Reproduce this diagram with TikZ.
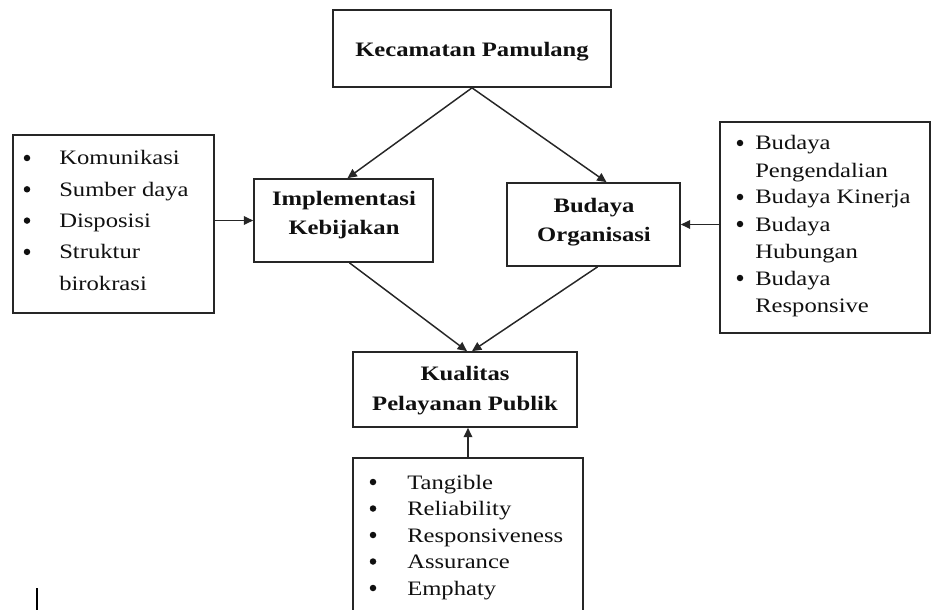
\documentclass[tikz,border=0pt]{standalone}
\usepackage{fontspec}
\setmainfont{Liberation Serif}[FakeStretch=1.2]
\usetikzlibrary{arrows.meta}
\newlength\pxu
\setlength\pxu{0.75pt}
\definecolor{linec}{HTML}{262626}
\definecolor{textc}{HTML}{101010}
\begin{document}
\begin{tikzpicture}[x=0.75pt,y=-0.75pt,
  box/.style={draw=linec,line width=1.3pt,inner sep=0pt,fill=none},
  txt/.style={anchor=base west,inner sep=0pt,text=textc,font=\fontsize{15.4}{18}\selectfont},
  bul/.style={circle,fill=textc,inner sep=0pt,minimum size=6.5\pxu},
  ttl/.style={anchor=base,inner sep=0pt,text=textc,font=\fontsize{15.4}{18}\selectfont\bfseries},
  arr/.style={draw=linec,line width=1.1pt,-{Triangle[length=7pt,width=6.5pt]}}]
\useasboundingbox (0,0) rectangle (933,610);
\clip (0,0) rectangle (933,610);
% boxes
\node[box,minimum width=278\pxu,minimum height=77\pxu] (kec) at (472,48.5) {};
\node[box,minimum width=179\pxu,minimum height=83\pxu] (impl) at (343.5,220.5) {};
\node[box,minimum width=173\pxu,minimum height=83\pxu] (bud) at (593.5,224.5) {};
\node[box,minimum width=224\pxu,minimum height=75\pxu] (kual) at (465,389.5) {};
\node[box,minimum width=201\pxu,minimum height=178\pxu] (left) at (113.5,224) {};
\node[box,minimum width=210\pxu,minimum height=211\pxu] (right) at (825,227.5) {};
\node[box,minimum width=230\pxu,minimum height=162\pxu] (bot) at (468,539) {};
% titles
\node[ttl] (kecT) at (472,57) {Kecamatan Pamulang};
\node[ttl] (implT1) at (344,205) {Implementasi};
\node[ttl] (implT2) at (344,234) {Kebijakan};
\node[ttl] (budT1) at (594,213) {Budaya};
\node[ttl] (budT2) at (594,242) {Organisasi};
\node[ttl] (kualT1) at (465,380) {Kualitas};
\node[ttl] (kualT2) at (465,410) {Pelayanan Publik};
% left list
\node[bul] (lb1) at (27,158) {};
\node[bul] (lb2) at (27,189.3) {};
\node[bul] (lb3) at (27,220.6) {};
\node[bul] (lb4) at (27,251.9) {};
\node[txt] (lt1) at (59,165) {Komunikasi};
\node[txt] (lt2) at (59,196.3) {Sumber daya};
\node[txt] (lt3) at (59,227.6) {Disposisi};
\node[txt] (lt4) at (59,258.9) {Struktur};
\node[txt] (lt5) at (59,290.2) {birokrasi};
% right list
\node[bul] (rb1) at (740,143) {};
\node[bul] (rb2) at (740,197) {};
\node[bul] (rb3) at (740,224) {};
\node[bul] (rb4) at (740,278) {};
\node[txt] (rt1) at (755,150) {Budaya};
\node[txt] (rt2) at (755,177) {Pengendalian};
\node[txt] (rt3) at (755,204) {Budaya Kinerja};
\node[txt] (rt4) at (755,231) {Budaya};
\node[txt] (rt5) at (755,258) {Hubungan};
\node[txt] (rt6) at (755,285) {Budaya};
\node[txt] (rt7) at (755,312) {Responsive};
% bottom list
\node[bul] (bb1) at (373,482) {};
\node[bul] (bb2) at (373,508.5) {};
\node[bul] (bb3) at (373,535) {};
\node[bul] (bb4) at (373,561.5) {};
\node[bul] (bb5) at (373,588) {};
\node[txt] (bt1) at (407,489) {Tangible};
\node[txt] (bt2) at (407,515.5) {Reliability};
\node[txt] (bt3) at (407,542) {Responsiveness};
\node[txt] (bt4) at (407,568.5) {Assurance};
\node[txt] (bt5) at (407,595) {Emphaty};
% connectors
\draw[arr] (kec.south) -- ([xshift=3pt]impl.north);
\draw[arr] (kec.south) -- ([xshift=9.75pt]bud.north);
\draw[arr] (left.east |- impl.west) -- (impl.west);
\draw[arr] (right.west |- bud.east) -- (bud.east);
\draw[arr] ([xshift=4.5pt]impl.south) -- ([xshift=1.5pt]kual.north);
\draw[arr] ([xshift=3pt]bud.south) -- ([xshift=5.25pt]kual.north);
\draw[arr] (bot.north) -- (bot.north |- kual.south);
% stray cursor mark
\draw[black,line width=1.6pt] (37,588) -- (37,612);
\end{tikzpicture}
\end{document}
